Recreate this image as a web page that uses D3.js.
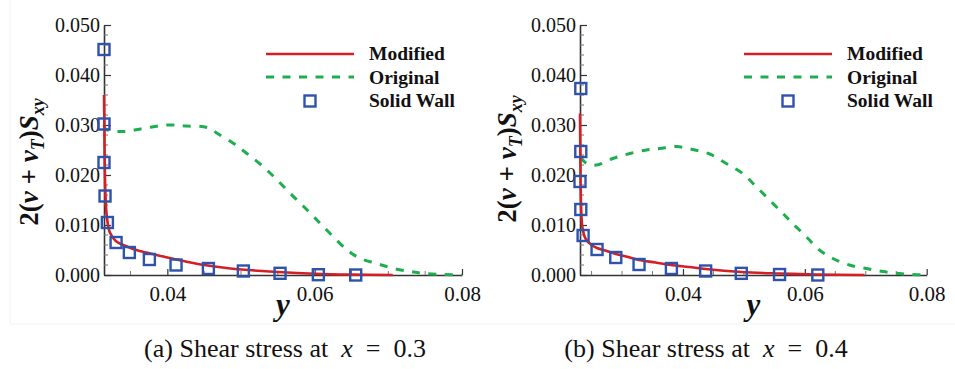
<!DOCTYPE html>
<html>
<head>
<meta charset="utf-8">
<script src="https://cdn.jsdelivr.net/npm/d3@7"></script>
<style>
  html, body { margin: 0; padding: 0; background: #ffffff; }
  svg { display: block; }
  text { font-family: "Liberation Serif", "DejaVu Serif", serif; fill: #111; }
</style>
</head>
<body>
<svg id="fig" width="955" height="369"></svg>
<script>
// Shear stress profiles 2(nu + nu_T) S_xy versus wall distance y

const serif = '"Liberation Serif", "DejaVu Serif", serif';

// Panel (a): x = 0.3
const modifiedA = [
  [0.0314, 0.0360], [0.03145, 0.0300], [0.0315, 0.0220], [0.0316, 0.0160],
  [0.0318, 0.0115], [0.0322, 0.0085], [0.0330, 0.0068], [0.0345, 0.0057],
  [0.0360, 0.0049], [0.0380, 0.0042], [0.0400, 0.0035], [0.0425, 0.0027],
  [0.0450, 0.0020], [0.0480, 0.0014], [0.0510, 0.0010], [0.0550, 0.0006],
  [0.0600, 0.00025], [0.0650, 0.00008], [0.0706, 0.0]
];
const originalA = [
  [0.0314, 0.0300], [0.0316, 0.0292], [0.0340, 0.0287], [0.0367, 0.0293],
  [0.0399, 0.0300], [0.0426, 0.0298], [0.0454, 0.0295], [0.0467, 0.0284],
  [0.0490, 0.0263], [0.0508, 0.0243], [0.0530, 0.0217], [0.0549, 0.0190],
  [0.0567, 0.0163], [0.0585, 0.0137], [0.0603, 0.0110], [0.0621, 0.0083],
  [0.0644, 0.0050], [0.0662, 0.0033], [0.0684, 0.0023], [0.0707, 0.0013],
  [0.0730, 0.0007], [0.0748, 0.0003], [0.0775, 0.0001], [0.0800, 0.0]
];
const wallA = [
  [0.0314, 0.0451], [0.0314, 0.0302], [0.0314, 0.0225], [0.03154, 0.0158],
  [0.03186, 0.0105], [0.03304, 0.0065], [0.03484, 0.0045], [0.03756, 0.0031],
  [0.04118, 0.0020], [0.04557, 0.0013], [0.05032, 0.0008], [0.0553, 0.00034],
  [0.0605, 0.00006], [0.06557, 0.0]
];

// Panel (b): x = 0.4
const modifiedB = [
  [0.0231, 0.0323], [0.02315, 0.0250], [0.0232, 0.0180], [0.0233, 0.0130],
  [0.0235, 0.0095], [0.0240, 0.0073], [0.0250, 0.0060], [0.0259, 0.0054],
  [0.0275, 0.0048], [0.0290, 0.0042], [0.0310, 0.0036], [0.0328, 0.0030],
  [0.0355, 0.0025], [0.0380, 0.0020], [0.0410, 0.0016], [0.0437, 0.0012],
  [0.0496, 0.0006], [0.0558, 0.0003], [0.0620, 0.0001], [0.0698, 0.0]
];
const originalB = [
  [0.0232, 0.0235], [0.0242, 0.0223], [0.0258, 0.0220], [0.0285, 0.0233],
  [0.0313, 0.0243], [0.0340, 0.0250], [0.0362, 0.0253], [0.0389, 0.0257],
  [0.0416, 0.0251], [0.0444, 0.0242], [0.0471, 0.0223], [0.0498, 0.0203],
  [0.0520, 0.0177], [0.0542, 0.0150], [0.0564, 0.0123], [0.0580, 0.0103],
  [0.0602, 0.0077], [0.0624, 0.0050], [0.0646, 0.0033], [0.0673, 0.0020],
  [0.0701, 0.0013], [0.0728, 0.0007], [0.0755, 0.0003], [0.0777, 0.0001],
  [0.0800, 0.0]
];
const wallB = [
  [0.02323, 0.0373], [0.02323, 0.0247], [0.0231, 0.0187], [0.02323, 0.0131],
  [0.02361, 0.0079], [0.0259, 0.0051], [0.02897, 0.0035], [0.03279, 0.0021],
  [0.0381, 0.0013], [0.04372, 0.0008], [0.04957, 0.00033], [0.05585, 0.0001],
  [0.06213, 0.0]
];

const xTicks = [0.04, 0.06, 0.08];
const yTicks = [0.000, 0.010, 0.020, 0.030, 0.040, 0.050];
const seriesNames = ["Modified", "Original", "Solid Wall"];
const captions = [["(a) Shear stress at\u00a0\u00a0", "x", "\u00a0\u00a0=\u00a0\u00a00.3"], ["(b) Shear stress at\u00a0\u00a0", "x", "\u00a0\u00a0=\u00a0\u00a00.4"]];

const colors = { modified: "#d41f26", original: "#1fae4f", wall: "#2f53aa", axis: "#333333" };

const panels = [
  { modified: modifiedA, original: originalA, wall: wallA, xDomain: [0.0314, 0.08], xRange: [104, 462],
    yLabelX: 38, yLabelY: 162, legendX: 266, caption: captions[0], captionX: 285 },
  { modified: modifiedB, original: originalB, wall: wallB, xDomain: [0.0231, 0.08], xRange: [580, 926.7],
    yLabelX: 516, yLabelY: 159, legendX: 744, caption: captions[1], captionX: 706 }
];

const svg = d3.select("#fig");
const yScale = d3.scaleLinear().domain([0, 0.05]).range([275, 25]);

// faint frame lines around the figure area
svg.append("line").attr("x1", 10).attr("x2", 10).attr("y1", 0).attr("y2", 324).attr("stroke", "#f3f3f3").attr("stroke-width", 1);
svg.append("line").attr("x1", 10).attr("x2", 955).attr("y1", 324).attr("y2", 324).attr("stroke", "#f3f3f3").attr("stroke-width", 1);

panels.forEach(p => {
  const g = svg.append("g");
  const x = d3.scaleLinear().domain(p.xDomain).range(p.xRange);

  // minor ticks
  const xMinor = d3.range(0.025, 0.0801, 0.005).filter(v => v >= p.xDomain[0] && v <= 0.08 && !xTicks.some(t => Math.abs(t - v) < 1e-9));
  const yMinor = d3.range(0, 0.0501, 0.002).filter(v => !yTicks.some(t => Math.abs(t - v) < 1e-9));

  const xAxis = d3.axisBottom(x).tickValues(xTicks).tickFormat(d3.format(".2f")).tickSizeInner(-6).tickSizeOuter(0).tickPadding(11);
  const yAxis = d3.axisLeft(yScale).tickValues(yTicks).tickFormat(d3.format(".3f")).tickSizeInner(-7).tickSizeOuter(0).tickPadding(11);

  const gx = g.append("g").attr("transform", "translate(0,275)").call(xAxis);
  const gy = g.append("g").attr("transform", `translate(${p.xRange[0]},0)`).call(yAxis);
  [gx, gy].forEach(a => {
    a.attr("font-family", serif);
    a.select(".domain").attr("stroke", colors.axis).attr("stroke-width", 1.6);
    a.selectAll(".tick line").attr("stroke", colors.axis).attr("stroke-width", 1.2);
    a.selectAll(".tick text").style("font-family", serif).attr("fill", "#1a1a1a");
  });
  gx.selectAll(".tick text").style("font-size", "21px");
  gy.selectAll(".tick text").style("font-size", "20px").attr("x", -4);

  g.append("g").selectAll("line").data(xMinor).join("line")
    .attr("x1", d => x(d)).attr("x2", d => x(d)).attr("y1", 275).attr("y2", 271)
    .attr("stroke", "#777").attr("stroke-width", 1);
  g.append("g").selectAll("line").data(yMinor).join("line")
    .attr("x1", p.xRange[0]).attr("x2", p.xRange[0] + 4).attr("y1", d => yScale(d)).attr("y2", d => yScale(d))
    .attr("stroke", "#777").attr("stroke-width", 1);

  const curve = d3.line().x(d => x(d[0])).y(d => yScale(d[1])).curve(d3.curveCatmullRom.alpha(0.5));

  g.append("path").datum(p.original).attr("d", curve)
    .attr("fill", "none").attr("stroke", colors.original).attr("stroke-width", 3)
    .attr("stroke-dasharray", "8,8.5");
  g.append("path").datum(p.modified).attr("d", curve)
    .attr("fill", "none").attr("stroke", colors.modified).attr("stroke-width", 2.6);

  g.append("g").selectAll("rect").data(p.wall).join("rect")
    .attr("x", d => x(d[0]) - 5.5).attr("y", d => yScale(d[1]) - 5.5)
    .attr("width", 11).attr("height", 11)
    .attr("fill", "none").attr("stroke", colors.wall).attr("stroke-width", 2.4);

  // legend
  const lx = p.legendX, lw = 88, tx = lx + 103;
  g.append("line").attr("x1", lx).attr("x2", lx + lw).attr("y1", 54).attr("y2", 54)
    .attr("stroke", colors.modified).attr("stroke-width", 2.6);
  g.append("line").attr("x1", lx).attr("x2", lx + lw).attr("y1", 77).attr("y2", 77)
    .attr("stroke", colors.original).attr("stroke-width", 3).attr("stroke-dasharray", "8,8.5");
  g.append("rect").attr("x", lx + lw / 2 - 5.5).attr("y", 101 - 5.5).attr("width", 11).attr("height", 11)
    .attr("fill", "none").attr("stroke", colors.wall).attr("stroke-width", 2.4);
  seriesNames.forEach((name, i) => {
    g.append("text").attr("x", tx).attr("y", 60 + i * 23.5)
      .style("font-size", "19.5px").style("font-weight", "bold").text(name);
  });

  // y-axis label: 2(ν + ν_T) S_xy
  const yl = g.append("text")
    .attr("transform", `translate(${p.yLabelX},${p.yLabelY}) rotate(-90)`)
    .attr("text-anchor", "middle")
    .style("font-size", "27px").style("font-weight", "bold");
  yl.append("tspan").text("2(");
  yl.append("tspan").style("font-style", "italic").text("ν");
  yl.append("tspan").text(" + ");
  yl.append("tspan").style("font-style", "italic").text("ν");
  yl.append("tspan").style("font-style", "italic").style("font-size", "18px").attr("dy", 6).text("T");
  yl.append("tspan").attr("dy", -6).text(")");
  yl.append("tspan").style("font-style", "italic").text("S");
  yl.append("tspan").style("font-style", "italic").style("font-size", "18px").attr("dy", 6).text("xy");

  // x-axis label
  g.append("text").attr("x", (p.xRange[0] + p.xRange[1]) / 2).attr("y", 315)
    .attr("text-anchor", "middle")
    .style("font-size", "31px").style("font-weight", "bold").style("font-style", "italic").text("y");

  // caption
  const c = g.append("text").attr("x", p.captionX).attr("y", 357).attr("text-anchor", "middle")
    .style("font-size", "26px");
  c.append("tspan").text(p.caption[0]);
  c.append("tspan").style("font-style", "italic").text(p.caption[1]);
  c.append("tspan").text(p.caption[2]);
});
</script>
</body>
</html>
